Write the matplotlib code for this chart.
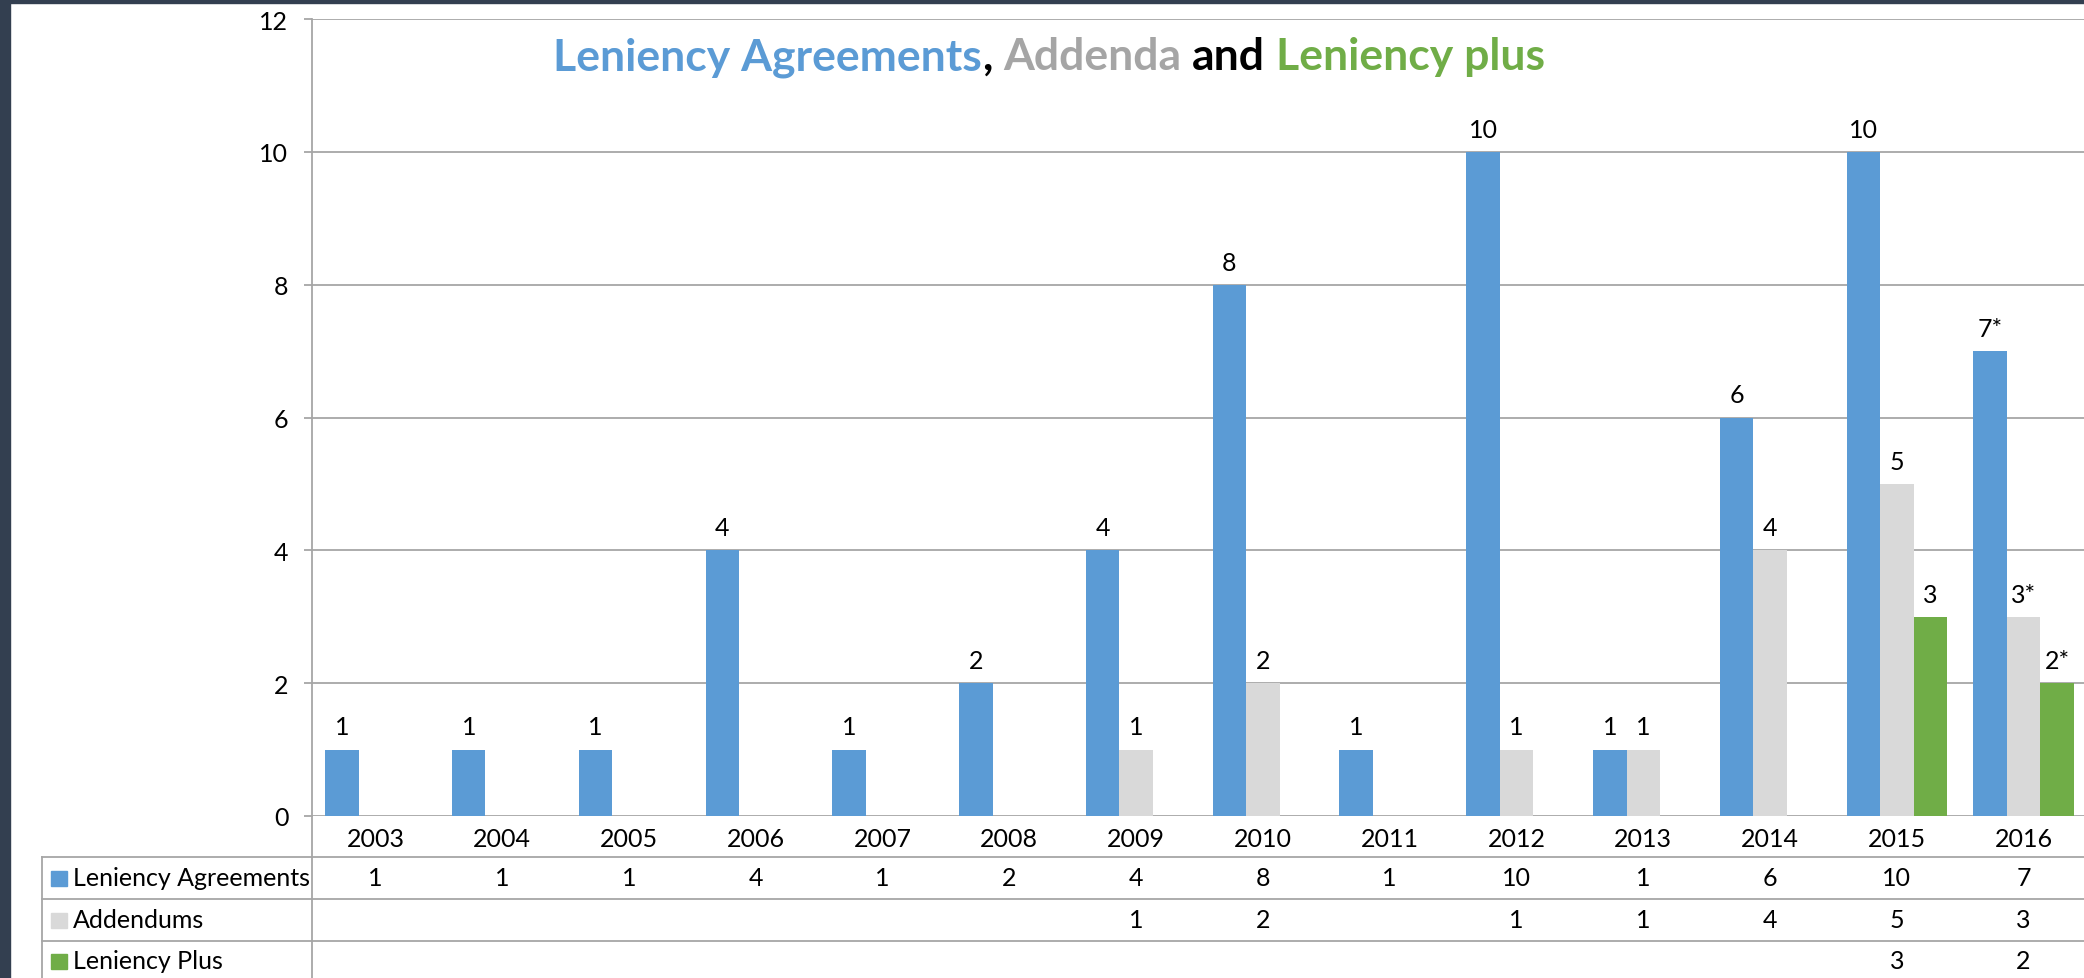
import numpy as np
import matplotlib.pyplot as plt
from matplotlib.lines import Line2D
from matplotlib.patches import Rectangle
from matplotlib.transforms import blended_transform_factory

plt.rcParams['font.family'] = ['Lato', 'DejaVu Sans']

# data
years = ['2003', '2004', '2005', '2006', '2007', '2008', '2009',
         '2010', '2011', '2012', '2013', '2014', '2015', '2016']
agreements = [1, 1, 1, 4, 1, 2, 4, 8, 1, 10, 1, 6, 10, 7]
addendums = [None, None, None, None, None, None, 1, 2, None, 1, 1, 4, 5, 3]
lenplus = [None] * 12 + [3, 2]
starred_years = ['2016']   # provisional figures, labelled with *
series_names = ['Leniency Agreements', 'Addendums', 'Leniency Plus']

BLUE = '#5B9BD5'
GRAY = '#D9D9D9'
GREEN = '#70AD47'
LINE = '#A6A6A6'
FS = 18

W, H = 2084, 979
fig = plt.figure(figsize=(W / 100, H / 100), dpi=100)


def fx(px):
    return px / W


def fy(py):
    return 1 - py / H


ax = fig.add_axes([fx(312), fy(817), fx(1775), (817 - 20) / H])

x = np.arange(len(years))
bw = 0.264
colors = [BLUE, GRAY, GREEN]
for i, (vals, col) in enumerate(zip([agreements, addendums, lenplus], colors)):
    pos = x + (i - 1) * bw
    heights = [np.nan if v is None else v for v in vals]
    ax.bar(pos, heights, bw, color=col, zorder=3)
    for p, v, yr in zip(pos, vals, years):
        if v is None:
            continue
        lab = f'{v}*' if yr in starred_years else str(v)
        ax.annotate(lab, (p, v), xytext=(0, 8), textcoords='offset points',
                    ha='center', va='bottom', fontsize=FS)

ax.set_xlim(-0.5, len(years) - 0.5)
ax.set_ylim(0, 12)
ax.set_yticks(range(0, 13, 2))
ax.yaxis.grid(True, color=LINE, lw=1.3, zorder=0)
for s in ['top', 'right', 'bottom']:
    ax.spines[s].set_visible(False)
ax.spines['left'].set_color(LINE)
ax.spines['left'].set_linewidth(1.3)
ax.tick_params(axis='y', length=6, width=1.3, color=LINE, pad=11, labelsize=FS)
ax.set_xticks(x)
ax.set_xticklabels(years)
ax.tick_params(axis='x', length=0, pad=8, labelsize=FS)

# data table under the chart
tr = blended_transform_factory(ax.transData, fig.transFigure)
row_lines = [857.5, 899.5, 941.5]
row_mid = [878.5, 920.5, 961.5]
for py in row_lines:
    fig.add_artist(Line2D([fx(42), fx(W)], [fy(py), fy(py)], color=LINE, lw=1.3))
fig.add_artist(Line2D([fx(42), fx(42)], [fy(857.5), 0], color=LINE, lw=1.3))
fig.add_artist(Line2D([fx(312), fx(312)], [fy(817), 0], color=LINE, lw=1.3))

for name, col, vals, py in zip(series_names, colors,
                               [agreements, addendums, lenplus], row_mid):
    fig.add_artist(Rectangle((fx(51), fy(py + 8)), fx(16), 15 / H,
                             color=col, transform=fig.transFigure))
    fig.text(fx(73), fy(py), name, fontsize=FS, va='center', ha='left')
    for xi, v in zip(x, vals):
        if v is not None:
            ax.text(xi, fy(py), str(v), transform=tr, ha='center',
                    va='center', fontsize=FS)

# multi-coloured title
parts = [('Leniency Agreements', BLUE, False), (',', 'black', False),
         ('Addenda', '#A5A5A5', True), ('and', 'black', True),
         ('Leniency plus', GREEN, True)]
tsize = 32
renderer = fig.canvas.get_renderer()
probe = fig.text(0, 0, 'a a', fontsize=tsize, weight='bold')
w1 = probe.get_window_extent(renderer).width
probe.set_text('aa')
space = w1 - probe.get_window_extent(renderer).width
probe.remove()
cur = 553
for txt, col, gap in parts:
    if gap:
        cur += space
    t = fig.text(fx(cur), fy(70), txt, fontsize=tsize, weight='bold',
                 color=col, va='baseline', ha='left')
    cur += t.get_window_extent(renderer).width

# dark frame of the screenshot
fig.add_artist(Rectangle((0, 0), fx(10), 1, color='#333F50',
                         transform=fig.transFigure, zorder=10))
fig.add_artist(Rectangle((0, fy(4)), 1, 4 / H, color='#333F50',
                         transform=fig.transFigure, zorder=10))

fig.savefig('out.png', dpi=100)
